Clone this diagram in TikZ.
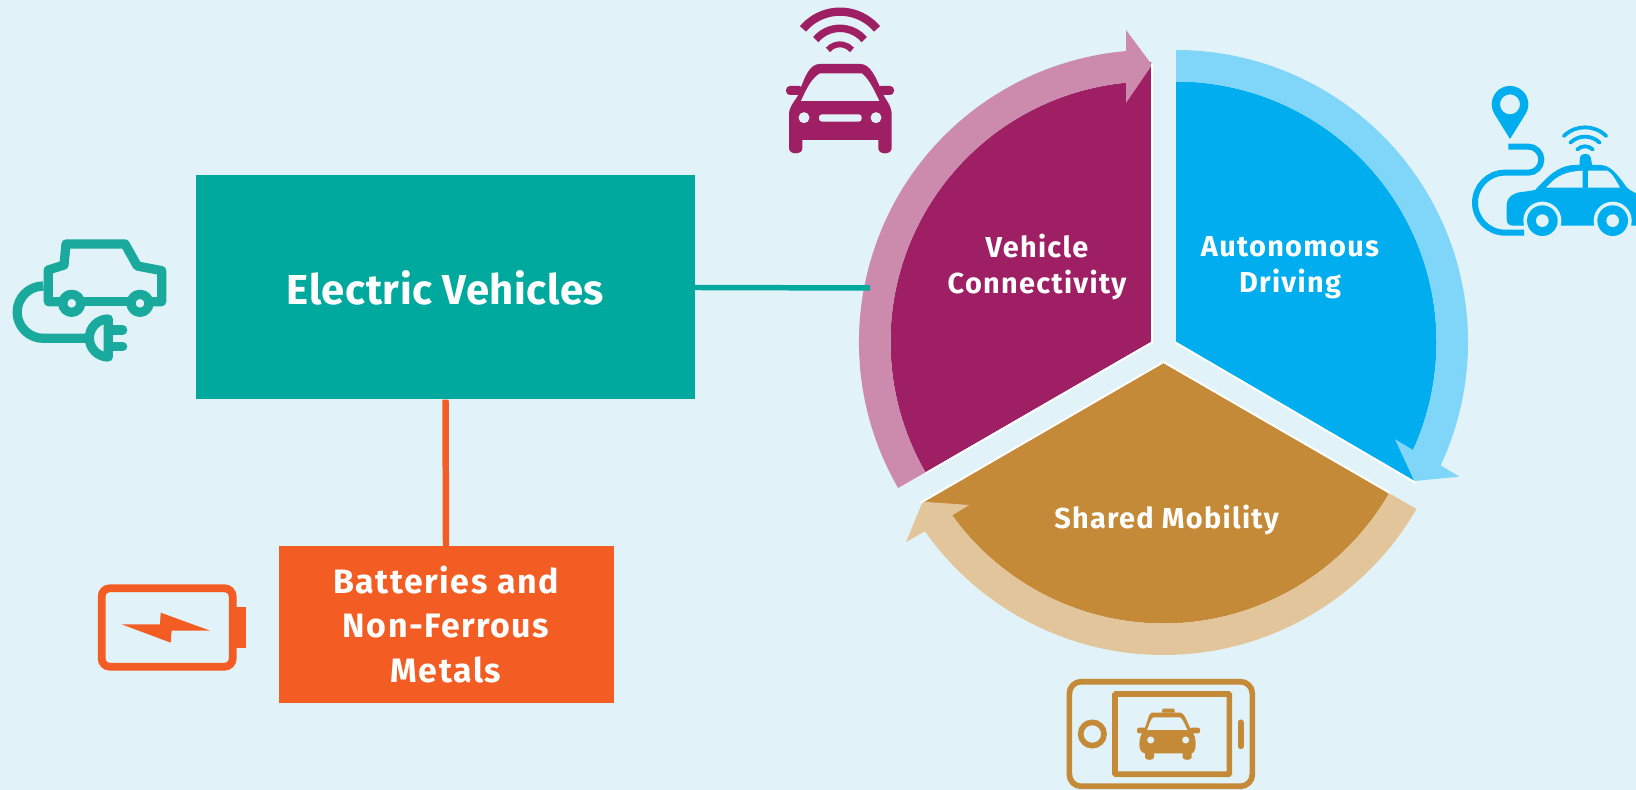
\documentclass[tikz,border=0pt]{standalone}
\usepackage{fontspec}
\usetikzlibrary{calc}
\setmainfont{Fira Sans}
\newfontfamily\lsfont{Fira Sans}[LetterSpace=4.5]
\newfontfamily\evfont{Fira Sans}[LetterSpace=1.3]
\definecolor{bgc}{HTML}{E1F3F8}
\definecolor{tealc}{HTML}{00A99D}
\definecolor{tealicon}{HTML}{1AA99D}
\definecolor{orangec}{HTML}{F35D24}
\definecolor{purplec}{HTML}{9E1F63}
\definecolor{pinkc}{HTML}{CC8AAD}
\definecolor{bluec}{HTML}{00AEEF}
\definecolor{lblue}{HTML}{80D6F9}
\definecolor{bronze}{HTML}{C58A37}
\definecolor{sand}{HTML}{E2C59A}
\tikzset{
  boxnode/.style={draw=none,inner sep=0pt,text=white,align=center},
  seglabel/.style={inner sep=0pt,text=white,align=center,font=\lsfont\bfseries\fontsize{29}{36.5}\selectfont},
  wedgeedge/.style={draw=white,line width=2pt},
}
\begin{document}
\begin{tikzpicture}[x=1bp,y=1bp,line join=miter]
\begin{scope}[shift={(0,790)},yscale=-1]
\fill[bgc] (0,0) rectangle (1636,790);
\useasboundingbox (0,0) rectangle (1636,790);
\def\Ro{292}\def\Ri{260.5}
\coordinate (P) at (1151,342);
\coordinate (B) at (1176,342);
\coordinate (T) at (1163.5,363);
% --- wedges
\fill[purplec] (P) -- (1151,62) -- (1126,70) -- ($(P)+(265.1:\Ri)$) arc[start angle=265.1,end angle=150,radius=\Ri] -- cycle;
\fill[bluec] (B) -- ($(B)+(-90:\Ri)$) arc[start angle=-90,end angle=25,radius=\Ri] -- (1414.3,481) -- cycle;
\fill[bronze] (T) -- ($(T)+(30:\Ri)$) arc[start angle=30,end angle=144.5,radius=\Ri] -- (922.7,501.7) -- cycle;
% --- ring arrows
\fill[pinkc] ($(P)+(150:\Ro)$) arc[start angle=150,end angle=265.1,radius=\Ro] -- (1126,30) -- (1152,65) -- (1126,103) -- ($(P)+(264.5:\Ri)$) arc[start angle=264.5,end angle=150,radius=\Ri] -- cycle;
\fill[lblue] ($(B)+(-90:\Ro)$) arc[start angle=-90,end angle=25,radius=\Ro] -- (1459.3,476.7) -- (1414.3,481) -- (1395,439.3) -- ($(B)+(24.5:\Ri)$) arc[start angle=24.5,end angle=-90,radius=\Ri] -- cycle;
\fill[sand] ($(T)+(30:\Ro)$) arc[start angle=30,end angle=144.8,radius=\Ro] -- (906,542) -- (922.7,501.7) -- (969.3,505) -- ($(T)+(144.2:\Ri)$) arc[start angle=144.2,end angle=30,radius=\Ri] -- cycle;
% --- white edges
\draw[wedgeedge] (1152,64) -- (1152,342.5) -- ($(P)+(150:\Ri)+(0.5,1)$);
\draw[wedgeedge] (1175.5,342.5) -- (1416,483);
\draw[wedgeedge] (920.7,502.7) -- (1163.5,362) -- (1390,493);
% --- labels
\node[seglabel] (vc) at (1037,267) {Vehicle\\Connectivity};
\node[seglabel] (ad) at (1290,267.5) {Autonomous\\Driving};
\node[seglabel] (sm) at (1166.5,520) {Shared Mobility};
% --- boxes
\coordinate (evend) at (870,288);
\node[boxnode,fill=tealc,minimum width=499bp,minimum height=224bp,font=\evfont\bfseries\fontsize{42}{45}\selectfont] (ev) at (445.5,287.5) {Electric Vehicles};
\node[boxnode,fill=orangec,minimum width=335bp,minimum height=157bp,font=\lsfont\bfseries\fontsize{34}{45}\selectfont] (bat) at (446,624.5) {Batteries and\\Non-Ferrous\\Metals};
\draw[tealc,line width=5.5pt] (ev.east) -- (evend);
\draw[orangec,line width=6.5pt] (ev.south) -- (bat.north);
% --- EV icon
\begin{scope}[shift={(0,220)},scale=1/3,tealicon,line width=9.3pt,line join=round,line cap=round]
\draw (190,245) -- (145,245) -- (145,150) -- (192,135) -- (198,72) -- (375,72) -- (412,138) -- (485,152) -- (485,245) -- (450,245);
\draw (245,245) -- (385,245);
\draw (215,250) circle (27);
\draw (420,250) circle (27);
\draw[line cap=butt] (130,198) arc[start angle=-90,end angle=-270,radius=78.5] -- (265,355);
\draw (325,297) arc[start angle=-90,end angle=-270,radius=57] -- cycle;
\draw (340,330) -- (368,330);
\draw (340,380) -- (368,380);
\end{scope}
% --- connected car icon
\begin{scope}[shift={(770,0)},scale=1/3,purplec]
\draw[line width=8.3pt] ($(210,180)+(-140:145)$) arc[start angle=-140,end angle=-40,radius=145];
\draw[line width=7.5pt] ($(210,180)+(-140:95)$) arc[start angle=-140,end angle=-40,radius=95];
\draw[line width=6pt] ($(210,180)+(-140:47)$) arc[start angle=-140,end angle=-40,radius=47];
\fill (150,192) -- (270,192) .. controls (300,192) and (315,225) .. (340,285) .. controls (355,310) and (365,320) .. (365,345) -- (365,445) .. controls (365,465) and (325,465) .. (325,445) -- (325,420) -- (97,420) -- (97,445) .. controls (97,465) and (57,465) .. (57,445) -- (57,345) .. controls (57,320) and (70,310) .. (85,285) .. controls (105,225) and (120,192) .. (150,192) -- cycle;
\fill[rounded corners=4pt] (48,258) rectangle (100,285);
\fill[rounded corners=4pt] (320,258) rectangle (372,285);
\fill[bgc] (93,303) -- (328,303) .. controls (310,265) and (295,235) .. (275,220) -- (150,220) .. controls (125,235) and (110,265) .. (93,303) -- cycle;
\fill[bgc] (102,353) circle (16.5);
\fill[bgc] (318,353) circle (16.5);
\fill[bgc,rounded corners=3pt] (147,343) rectangle (275,365);
\end{scope}
% --- autonomous icon
\begin{scope}[shift={(1460,70)},scale=1/3,bluec]
\fill[even odd rule] (150,207) -- (196.6,132) arc[start angle=32,end angle=-212,radius=55] -- cycle (150,103) circle (30);
\draw[line width=6pt] (145,230) -- (205,230) arc[start angle=-90,end angle=90,radius=39] -- (135,308) arc[start angle=-90,end angle=-270,radius=90] -- (192,488);
\fill (140,445) -- (140,405) .. controls (140,380) and (165,365) .. (195,365) -- (225,360) .. controls (265,320) and (290,287) .. (345,285) -- (420,285) .. controls (450,285) and (470,310) .. (500,352) .. controls (510,362) and (520,365) .. (528,370) -- (528,467) -- (160,467) .. controls (145,467) and (140,460) .. (140,445) -- cycle;
\fill (358,288) -- (360,262) .. controls (362,248) and (390,248) .. (392,262) -- (397,288) -- cycle;
\fill[bgc] (258,353) .. controls (280,330) and (300,305) .. (368,302) -- (368,353) -- cycle;
\fill[bgc] (384,302) -- (440,302) .. controls (455,305) and (470,335) .. (480,353) -- (384,353) -- cycle;
\fill[bgc] (247,452) circle (57);
\fill[bgc] (458,452) circle (57);
\fill (247,452) circle (46);
\fill (458,452) circle (46);
\fill[bgc] (247,452) circle (19);
\fill[bgc] (458,452) circle (19);
\draw[line width=3.8pt,line cap=round] ($(375,262)+(-135:90)$) arc[start angle=-135,end angle=-45,radius=90];
\draw[line width=3.8pt,line cap=round] ($(375,262)+(-135:62)$) arc[start angle=-135,end angle=-45,radius=62];
\draw[line width=3.8pt,line cap=round] ($(375,262)+(-135:33)$) arc[start angle=-135,end angle=-45,radius=33];
\end{scope}
% --- phone icon
\begin{scope}[shift={(1050,670)},scale=1/3,bronze,line width=5.7pt]
\draw[rounded corners=12pt] (58,35) rectangle (607,349);
\draw[rounded corners=1pt] (195,72) rectangle (538,313);
\draw (127,192) circle (35);
\draw[line cap=round] (572,157) -- (572,229);
\fill (335,128) -- (338,116) -- (372,116) -- (375,128) -- cycle;
\fill (305,128) -- (392,128) .. controls (405,130) and (412,160) .. (424,180) .. controls (434,195) and (437,205) .. (437,225) .. controls (437,240) and (430,250) .. (425,250) -- (425,262) .. controls (425,272) and (398,272) .. (398,262) -- (398,250) -- (312,250) -- (312,262) .. controls (312,272) and (285,272) .. (285,262) -- (285,250) .. controls (275,248) and (268,240) .. (268,225) .. controls (268,205) and (272,195) .. (282,180) .. controls (292,160) and (295,130) .. (305,128) -- cycle;
\fill[rounded corners=2pt] (261,173) rectangle (290,190);
\fill[rounded corners=2pt] (420,173) rectangle (450,190);
\fill[bgc] (291,180) -- (412,180) .. controls (405,165) and (400,150) .. (390,142) -- (310,142) .. controls (300,150) and (298,165) .. (291,180) -- cycle;
\fill[bgc] (302,210) circle (10.5);
\fill[bgc] (407,210) circle (10.5);
\end{scope}
% --- battery icon
\begin{scope}[shift={(80,570)},scale=1/3,orangec]
\draw[line width=7.8pt,rounded corners=8pt] (65,55) rectangle (458,290);
\fill (462,112) rectangle (497,233);
\fill (125,163) -- (240,163) -- (242,128) -- (390,182) -- (275,182) -- (272,218) -- cycle;
\end{scope}
\end{scope}
\end{tikzpicture}
\end{document}
